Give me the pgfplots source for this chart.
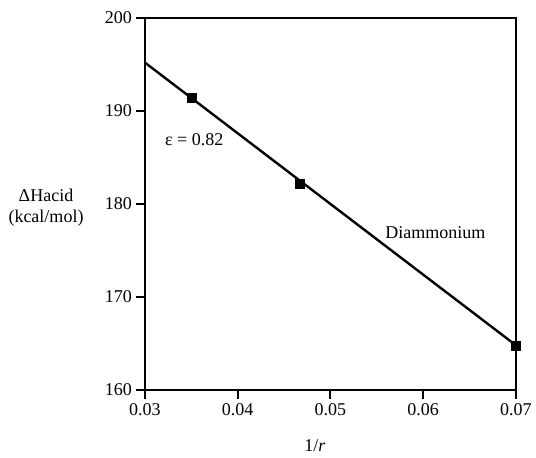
\documentclass[border=0pt]{standalone}
\usepackage{pgfplots}
\pgfplotsset{compat=1.18}
\usepackage{fontspec}
\setmainfont{Liberation Serif}
\begin{document}
\fontsize{18}{21}\selectfont
\begin{tikzpicture}[x=1pt,y=1pt]
\path[use as bounding box] (-145,-68) rectangle (391,390);
\begin{axis}[
  name=ax,
  at={(0,0)}, anchor=south west,
  scale only axis,
  width=371pt, height=372pt,
  xmin=0.03, xmax=0.07,
  ymin=160, ymax=200,
  xtick={0.03,0.04,0.05,0.06,0.07},
  ytick={160,170,180,190,200},
  xticklabels={0.03,0.04,0.05,0.06,0.07},
  yticklabels={160,170,180,190,200},
  scaled x ticks=false,
  tick align=outside,
  xtick pos=bottom, ytick pos=left,
  major tick length=9pt,
  tick style={line width=2pt, black},
  axis line style={line width=2.2pt},
  xticklabel style={yshift=2pt},
  yticklabel style={xshift=2pt},
  tick label style={font=\fontsize{18}{21}\selectfont},
  /pgf/number format/assume math mode=true,
  clip=false,
]
\addplot[black, line width=2.4pt] coordinates {(0.03,195.2) (0.07,164.8)};
\addplot[only marks, mark=square*, mark size=4.6pt, black] coordinates {
  (0.035,191.4) (0.0467,182.2) (0.07,164.8)};
\node[anchor=west] at (axis cs:0.0315,186.9) {ε = 0.82};
\node at (axis cs:0.0613,176.9) {Diammonium};
\end{axis}
\node[align=center] at (-99,182) {ΔHacid\\(kcal/mol)};
\node at (170,-56) {1/\textit{r}};
\end{tikzpicture}
\end{document}
